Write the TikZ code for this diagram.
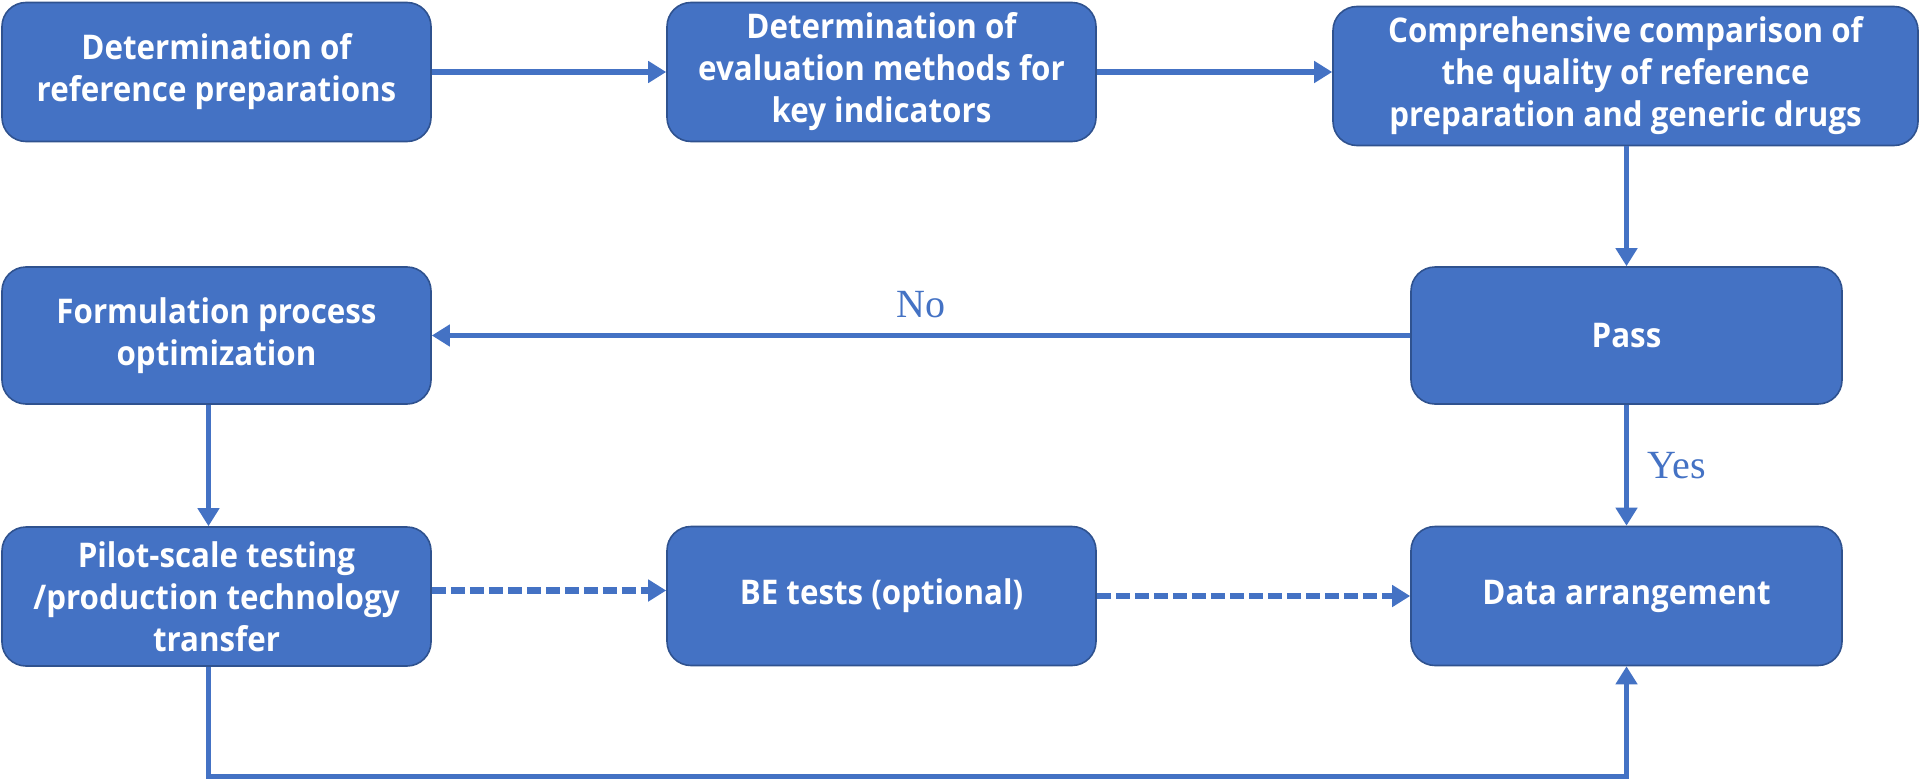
\documentclass[tikz,border=0pt]{standalone}
\usepackage{fontspec}
\setmainfont{Liberation Serif}
\newfontfamily\boxfont{Open Sans}[FakeStretch=0.92]
\usetikzlibrary{arrows.meta,positioning,calc}

\definecolor{boxblue}{HTML}{4472C4}
\definecolor{edgeblue}{HTML}{2F528F}

\tikzset{
    stage/.style={draw=edgeblue,line width=0.8pt,fill=boxblue,rounded corners=12pt,
        minimum width=214.5pt,minimum height=69.5pt,align=center,text=white,
        font=\boxfont\bfseries\fontsize{17}{21}\selectfont},
    flow/.style={draw=boxblue,line width=2.6pt,-{Triangle[length=9pt,width=10.5pt]}},
    optflow/.style={flow,line width=3.4pt,dash pattern=on 7pt off 2.5pt},
    answer/.style={text=boxblue,font=\fontsize{20}{22}\selectfont}
}

\begin{document}
\begin{tikzpicture}[x=0.5pt,y=-0.5pt]
    \useasboundingbox (0,0) rectangle (1920,781);

    %first row
    \node[stage] (refprep) at (216.5,72) {Determination of\\reference preparations};
    \node[stage] (evalmeth) at (881.5,72) {Determination of\\evaluation methods for\\key indicators};
    \node[stage,minimum width=292.5pt] (compare) at (1625.5,76) {Comprehensive comparison of\\the quality of reference\\preparation and generic drugs};

    %second row
    \node[stage,minimum height=68.5pt] (optim) at (216.5,335.5) {Formulation process\\optimization};
    \node[stage,minimum width=215.5pt,minimum height=68.5pt] (pass) at (1626.5,335.5) {Pass};

    %third row
    \node[stage] (pilot) at (216.5,596.5) {Pilot-scale testing\\/production technology\\transfer};
    \node[stage] (betest) at (881.5,596) {BE tests (optional)};
    \node[stage,minimum width=215.5pt] (data) at (1626.5,596) {Data arrangement};

    \draw[flow] (refprep.east) -- (refprep.east -| evalmeth.west);
    \draw[flow] (evalmeth.east) -- (evalmeth.east -| compare.west);
    \draw[flow] (compare.south -| pass.north) -- (pass.north);
    \draw[flow] (pass.west) -- node[answer,above=4pt] (no) {No} (optim.east);
    \draw[flow] ([xshift=-4pt]optim.south) -- ([xshift=-4pt]pilot.north);
    \draw[flow] (pass.south) -- node[answer,right=6pt] (yes) {Yes} (data.north);

    %optional route
    \draw[optflow] ([yshift=3pt]pilot.east) -- ([yshift=3pt]pilot.east -| betest.west);
    \draw[optflow] (betest.east) -- (data.west);

    %direct route
    \draw[flow] ([xshift=-4pt]pilot.south) -- ++(0,110) -| (data.south);
\end{tikzpicture}
\end{document}
